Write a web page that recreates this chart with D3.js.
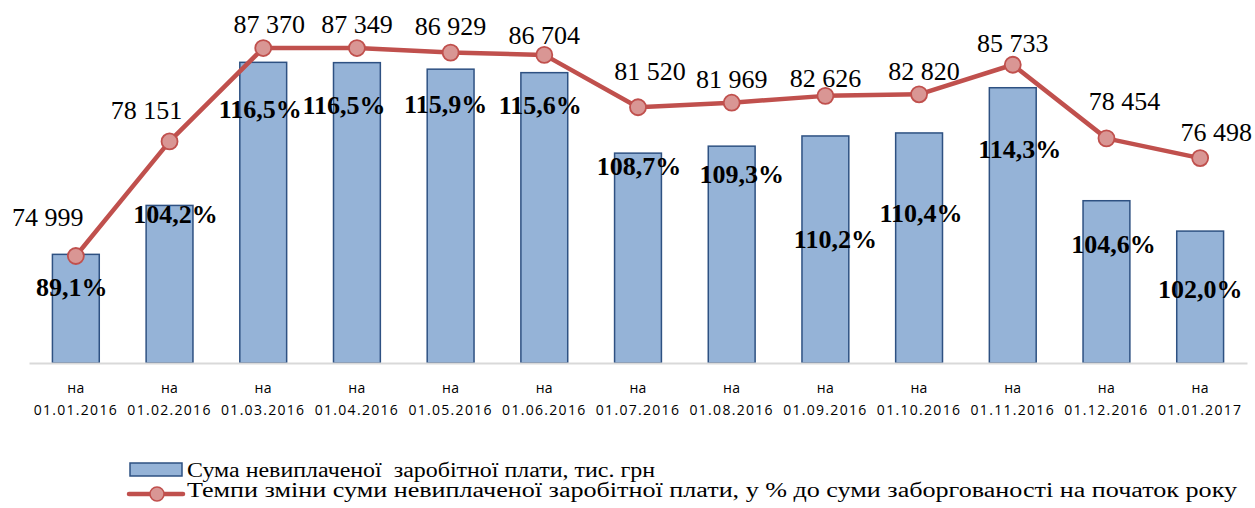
<!DOCTYPE html>
<html>
<head>
<meta charset="utf-8">
<script src="https://cdn.jsdelivr.net/npm/d3@7"></script>
<style>
  html, body { margin: 0; padding: 0; background: #fff; }
  svg { display: block; }
</style>
</head>
<body>
<svg id="chart"></svg>
<script>
// data
const dates = ['01.01.2016', '01.02.2016', '01.03.2016', '01.04.2016', '01.05.2016', '01.06.2016',
    '01.07.2016', '01.08.2016', '01.09.2016', '01.10.2016', '01.11.2016', '01.12.2016', '01.01.2017'];
const debtSum = [74999, 78151, 87370, 87349, 86929, 86704, 81520, 81969, 82626, 82820, 85733, 78454, 76498];
const changePct = [89.1, 104.2, 116.5, 116.5, 115.9, 115.6, 108.7, 109.3, 110.2, 110.4, 114.3, 104.6, 102.0];
const seriesNames = [
    'Сума невиплаченої  заробітної плати, тис. грн',
    'Темпи зміни суми невиплаченої заробітної плати, у % до суми заборгованості на початок року'
];

// label nudges (as placed in the original sheet)
const sumLabelNudge = [[-28, -30], [-23, -22], [6, -15], [0, -15], [0, -18], [0, -11], [12, -27],
    [0, -15], [0, -9], [5, -14], [0, -13], [18, -28], [16, -17]];
const pctLabelNudge = [[-4, 42], [6, 18], [-3, 56], [-13, 51], [-5, 44], [-4, 41], [1, 22],
    [10, 37], [10, 112], [2, 89], [7, 70], [7, 52], [0, 67]];

const W = 1255, H = 508;
const plot = { left: 29, right: 1247, top: 21.5, bottom: 363 };
const colors = { bar: '#95b3d7', barStroke: '#2e5182', line: '#c0504d', marker: '#d99694', axis: '#d9d9d9' };

const svg = d3.select('#chart').attr('width', W).attr('height', H);

const x = d3.scaleBand().domain(dates).range([plot.left, plot.right]).paddingInner(0.5).paddingOuter(0.25);
const ySum = d3.scaleLinear().domain([68000, 90000]).range([plot.bottom, plot.top]);
const yPct = d3.scaleLinear().domain([75, 120]).range([plot.bottom, plot.top]);
const cx = d => x(d) + x.bandwidth() / 2;

// Bars
svg.append('g').selectAll('rect')
    .data(dates)
    .enter().append('rect')
    .attr('x', d => x(d))
    .attr('width', x.bandwidth())
    .attr('y', (d, i) => ySum(debtSum[i]))
    .attr('height', (d, i) => plot.bottom - ySum(debtSum[i]))
    .attr('fill', colors.bar)
    .attr('stroke', colors.barStroke).attr('stroke-width', 1.5);

// Category axis
const xAxis = svg.append('g').attr('transform', `translate(0,${plot.bottom})`)
    .call(d3.axisBottom(x).tickSize(0).tickFormat(''));
xAxis.select('.domain').attr('stroke', colors.axis).attr('stroke-width', 2);

const tickLabels = svg.append('g')
    .attr('font-family', '"Open Sans", sans-serif').attr('font-size', '14px')
    .attr('fill', '#000').attr('text-anchor', 'middle');
tickLabels.selectAll('text.na').data(dates).enter().append('text')
    .attr('x', d => cx(d)).attr('y', 392.5).attr('letter-spacing', '0.3px').text('на');
tickLabels.selectAll('text.dt').data(dates).enter().append('text')
    .attr('x', d => cx(d)).attr('y', 415).attr('letter-spacing', '1.3px').text(d => d);

// Line
const line = d3.line().x(d => cx(d)).y((d, i) => yPct(changePct[i]));
svg.append('path').datum(dates)
    .attr('d', line)
    .attr('fill', 'none').attr('stroke', colors.line).attr('stroke-width', 4.5)
    .attr('stroke-linejoin', 'round');

svg.append('g').selectAll('circle')
    .data(dates)
    .enter().append('circle')
    .attr('cx', d => cx(d))
    .attr('cy', (d, i) => yPct(changePct[i]))
    .attr('r', 8)
    .attr('fill', colors.marker).attr('stroke', colors.line).attr('stroke-width', 1.8);

// Sum labels near markers
const fmtSum = v => d3.format(',')(v).replace(/,/g, ' ');
svg.append('g')
    .attr('font-family', '"Liberation Serif", "Times New Roman", serif').attr('font-size', '26px')
    .attr('text-anchor', 'middle').attr('fill', '#000')
    .selectAll('text').data(dates).enter().append('text')
    .attr('x', (d, i) => cx(d) + sumLabelNudge[i][0])
    .attr('y', (d, i) => yPct(changePct[i]) + sumLabelNudge[i][1])
    .text((d, i) => fmtSum(debtSum[i]));

// Percent labels on bars
const fmtPct = v => v.toFixed(1).replace('.', ',') + '%';
svg.append('g')
    .attr('font-family', '"Liberation Serif", "Times New Roman", serif').attr('font-size', '26px')
    .attr('font-weight', 'bold').attr('text-anchor', 'middle').attr('fill', '#000')
    .selectAll('text').data(dates).enter().append('text')
    .attr('x', (d, i) => cx(d) + pctLabelNudge[i][0])
    .attr('y', (d, i) => ySum(debtSum[i]) + pctLabelNudge[i][1])
    .text((d, i) => fmtPct(changePct[i]));

// Legend (text stretched horizontally like the source picture)
const legend = svg.append('g')
    .attr('font-family', '"Liberation Serif", "Times New Roman", serif').attr('font-size', '20px').attr('fill', '#000');
legend.append('rect')
    .attr('x', 130).attr('y', 463).attr('width', 52).attr('height', 13)
    .attr('fill', colors.bar).attr('stroke', colors.barStroke).attr('stroke-width', 1.5);
legend.append('text').attr('x', 187).attr('y', 477).attr('xml:space', 'preserve')
    .attr('textLength', 468).attr('lengthAdjust', 'spacingAndGlyphs').text(seriesNames[0]);
legend.append('line')
    .attr('x1', 129).attr('x2', 183).attr('y1', 494).attr('y2', 494)
    .attr('stroke', colors.line).attr('stroke-width', 4.5).attr('stroke-linecap', 'round');
legend.append('circle')
    .attr('cx', 157).attr('cy', 494).attr('r', 7)
    .attr('fill', colors.marker).attr('stroke', colors.line).attr('stroke-width', 1.5);
legend.append('text').attr('x', 187).attr('y', 497)
    .attr('textLength', 1050).attr('lengthAdjust', 'spacingAndGlyphs').text(seriesNames[1]);
</script>
</body>
</html>
